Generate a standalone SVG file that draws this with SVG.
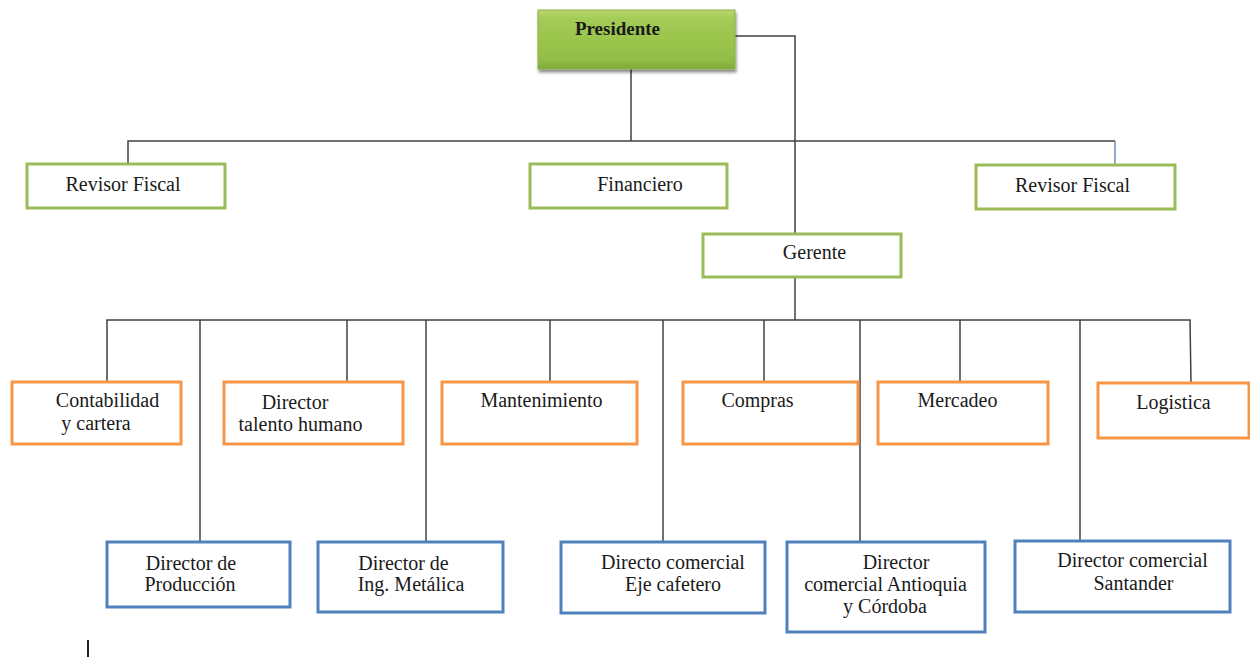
<svg xmlns="http://www.w3.org/2000/svg" width="1250" height="658" viewBox="0 0 1250 658">
<defs>
<linearGradient id="gp" x1="0" y1="0" x2="0" y2="1">
<stop offset="0" stop-color="#b9d86e"/>
<stop offset="0.15" stop-color="#a3cb55"/>
<stop offset="0.85" stop-color="#93be45"/>
<stop offset="1" stop-color="#7fa83a"/>
</linearGradient>
<filter id="sh" x="-10%" y="-10%" width="130%" height="140%">
<feGaussianBlur in="SourceAlpha" stdDeviation="1.5"/>
<feOffset dx="1" dy="3" result="b"/>
<feComponentTransfer><feFuncA type="linear" slope="0.45"/></feComponentTransfer>
<feMerge><feMergeNode/><feMergeNode in="SourceGraphic"/></feMerge>
</filter>
</defs>
<style>
text{font-family:"Liberation Serif","Times New Roman",serif;font-size:20px;fill:#1a1a1a;text-anchor:middle}
.g{fill:#fff;stroke:#9bbb59;stroke-width:3}
.o{fill:#fff;stroke:#f79646;stroke-width:3}
.b{fill:#fff;stroke:#4f81bd;stroke-width:3}
.c{fill:none;stroke:#404040;stroke-width:1.5}
</style>
<rect width="1250" height="658" fill="#fff"/>
<g id="connectors">
<polyline class="c" points="631,69 631,141"/>
<polyline class="c" points="128,164 128,141 1115,141"/>
<polyline points="1115,141 1115,165" fill="none" stroke="#6f8fb8" stroke-width="1.5"/>
<polyline class="c" points="735,36 795,36 795,234"/>
<polyline class="c" points="795,277 795,320"/>
<polyline class="c" points="107,381 107,320 1190,320 1191,383"/>
<line class="c" x1="200" y1="320" x2="200" y2="542"/>
<line class="c" x1="347" y1="320" x2="347" y2="382"/>
<line class="c" x1="426" y1="320" x2="426" y2="542"/>
<line class="c" x1="550" y1="320" x2="550" y2="382"/>
<line class="c" x1="663" y1="320" x2="663" y2="542"/>
<line class="c" x1="764" y1="320" x2="764" y2="382"/>
<line class="c" x1="860" y1="320" x2="860" y2="542"/>
<line class="c" x1="960" y1="320" x2="960" y2="382"/>
<line class="c" x1="1080" y1="320" x2="1080" y2="541"/>
<line x1="88" y1="640" x2="88" y2="657" stroke="#222" stroke-width="2"/>
</g>
<g id="presidente">
<rect x="538" y="10" width="197" height="59" fill="url(#gp)" stroke="#8cb04a" stroke-width="1" filter="url(#sh)"/>
<text x="617.5" y="35" style="font-weight:bold;font-size:19px">Presidente</text>
</g>
<g id="revisor-fiscal-1">
<rect class="g" x="27" y="164" width="198" height="44"/>
<text x="123" y="191">Revisor Fiscal</text>
</g>
<g id="financiero">
<rect class="g" x="530" y="164" width="197" height="44"/>
<text x="640" y="191">Financiero</text>
</g>
<g id="revisor-fiscal-2">
<rect class="g" x="976" y="165" width="199" height="44"/>
<text x="1072.5" y="192">Revisor Fiscal</text>
</g>
<g id="gerente">
<rect class="g" x="703" y="234" width="198" height="43"/>
<text x="814.5" y="259">Gerente</text>
</g>
<g id="contabilidad">
<rect class="o" x="12" y="382" width="169" height="62"/>
<text x="107.5" y="407">Contabilidad</text>
<text x="96" y="430">y cartera</text>
</g>
<g id="talento-humano">
<rect class="o" x="224" y="382" width="179" height="62"/>
<text x="295" y="409">Director</text>
<text x="300.5" y="431">talento humano</text>
</g>
<g id="mantenimiento">
<rect class="o" x="442" y="382" width="195" height="62"/>
<text x="541.5" y="407">Mantenimiento</text>
</g>
<g id="compras">
<rect class="o" x="683" y="382" width="175" height="62"/>
<text x="757.5" y="407">Compras</text>
</g>
<g id="mercadeo">
<rect class="o" x="878" y="382" width="170" height="62"/>
<text x="957.5" y="407">Mercadeo</text>
</g>
<g id="logistica">
<rect class="o" x="1098" y="383" width="151" height="55"/>
<text x="1173.5" y="409">Logistica</text>
</g>
<g id="produccion">
<rect class="b" x="107" y="542" width="183" height="65"/>
<text x="191" y="570">Director de</text>
<text x="190" y="591">Producción</text>
</g>
<g id="ing-metalica">
<rect class="b" x="318" y="542" width="185" height="70"/>
<text x="403.5" y="570">Director de</text>
<text x="411" y="591">Ing. Metálica</text>
</g>
<g id="eje-cafetero">
<rect class="b" x="561" y="542" width="204" height="71"/>
<text x="673" y="569">Directo comercial</text>
<text x="673" y="591">Eje cafetero</text>
</g>
<g id="antioquia">
<rect class="b" x="787" y="542" width="198" height="90"/>
<text x="896" y="569">Director</text>
<text x="885.5" y="591">comercial Antioquia</text>
<text x="885" y="613">y Córdoba</text>
</g>
<g id="santander">
<rect class="b" x="1015" y="541" width="215" height="71"/>
<text x="1132.5" y="567">Director comercial</text>
<text x="1133.5" y="590">Santander</text>
</g>
</svg>
